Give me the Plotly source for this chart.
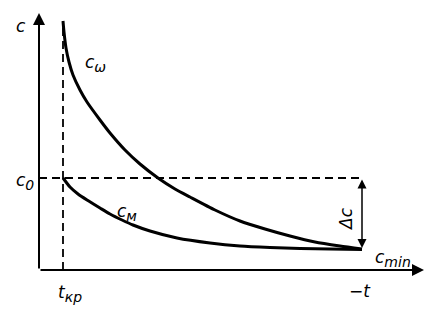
import plotly.graph_objects as go

# Chart values (horizontal: time t, vertical: concentration c), arbitrary units
t_kr = 63          # critical time t_кр
t_end = 362        # time where c reaches c_min
c_0 = 137          # level c_0
c_min = 66         # level c_min
t_axis_end = 424
c_axis_end = 302
t_origin = 39
c_origin = 45

# upper curve c_ω
t_w = [63, 64, 66, 69, 73, 80, 87, 100, 110, 125, 140, 158, 175, 190, 215, 240, 265, 290, 315, 340, 362]
c_w = [294, 283, 267, 253, 240, 225, 213, 195, 182, 165, 151, 137, 126, 118, 105, 94, 86, 79, 73, 69, 66]

# lower curve c_м
t_m = [63, 70, 78, 87, 100, 110, 122, 133, 150, 177, 210, 240, 270, 300, 330, 362]
c_m = [137, 128, 121, 115, 107, 101, 95, 90, 84, 77, 72, 69, 67.5, 66.5, 66, 65.5]

fig = go.Figure()

# dashed guide lines
fig.add_trace(go.Scatter(x=[t_kr, t_kr], y=[c_origin, 294], mode="lines",
                         line=dict(color="black", width=1.8, dash="8px,5px"), hoverinfo="skip"))
fig.add_trace(go.Scatter(x=[t_origin, t_end], y=[c_0, c_0], mode="lines",
                         line=dict(color="black", width=1.8, dash="8px,5px"), hoverinfo="skip"))

# curves
fig.add_trace(go.Scatter(x=t_w, y=c_w, mode="lines",
                         line=dict(color="black", width=3, shape="spline", smoothing=0.6),
                         hoverinfo="skip"))
fig.add_trace(go.Scatter(x=t_m, y=c_m, mode="lines",
                         line=dict(color="black", width=3, shape="spline", smoothing=0.6),
                         hoverinfo="skip"))

annotations = []
# axes with arrows
annotations.append(dict(x=t_origin, y=c_axis_end, ax=t_origin, ay=c_origin, xref="x", yref="y",
                        axref="x", ayref="y", showarrow=True, arrowhead=2, arrowsize=1.2,
                        arrowwidth=2, arrowcolor="black", text=""))
annotations.append(dict(x=t_axis_end, y=c_origin, ax=t_origin, ay=c_origin, xref="x", yref="y",
                        axref="x", ayref="y", showarrow=True, arrowhead=2, arrowsize=1.2,
                        arrowwidth=2, arrowcolor="black", text=""))
# Δc double arrow
annotations.append(dict(x=t_end, y=c_min + 1, ax=t_end, ay=c_0, xref="x", yref="y",
                        axref="x", ayref="y", showarrow=True, arrowhead=2, arrowside="end+start",
                        arrowsize=1.2, arrowwidth=1.5, arrowcolor="black", text=""))

font = dict(family="DejaVu Sans", size=17, color="black")
S = "<span style='font-size:14px'>"
labels = [
    (21, 289, "<i>c</i>", 0),
    (95, 252, "<i>c<sub>" + S + "ω</span></sub></i>", 0),
    (25, 134, "<i>c<sub>" + S + "0</span></sub></i>", 0),
    (127, 103, "<i>c<sub>" + S + "м</span></sub></i>", 0),
    (346, 96, "<i>Δc</i>", -90),
    (393, 57, "<i>c<sub>" + S + "min</span></sub></i>", 0),
    (70, 22, "<i>t<sub>" + S + "кр</span></sub></i>", 0),
    (360, 24, "<i>−t</i>", 0),
]
for x, y, txt, ang in labels:
    annotations.append(dict(x=x, y=y, xref="x", yref="y", text=txt, showarrow=False,
                            font=font, textangle=ang))

fig.update_layout(
    width=441, height=315, margin=dict(l=0, r=0, t=0, b=0),
    paper_bgcolor="white", plot_bgcolor="white", showlegend=False,
    xaxis=dict(range=[0, 441], visible=False, fixedrange=True),
    yaxis=dict(range=[0, 315], visible=False, fixedrange=True),
    annotations=annotations,
)

fig.write_html("out.html")
